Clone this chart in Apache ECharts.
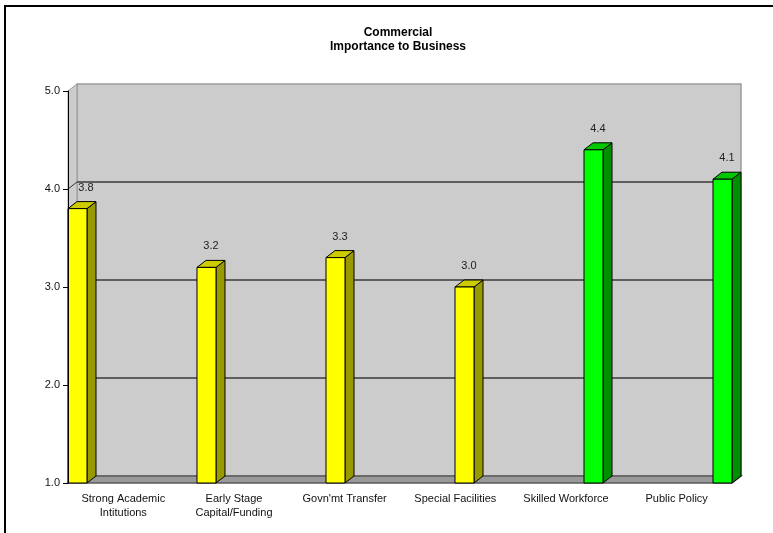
<!DOCTYPE html>
<html>
<head>
<meta charset="utf-8">
<script src="https://cdn.jsdelivr.net/npm/echarts@6/dist/echarts.min.js"></script>
<style>
  html, body { margin: 0; padding: 0; background: #ffffff; }
  #chart { width: 773px; height: 533px; }
</style>
</head>
<body>
<div id="chart"></div>
<script>
// Survey categories and their mean importance scores
const categories = [
  'Strong Academic\nIntitutions',
  'Early Stage\nCapital/Funding',
  "Govn'mt Transfer",
  'Special Facilities',
  'Skilled Workforce',
  'Public Policy'
];
const scores = [3.8, 3.2, 3.3, 3.0, 4.4, 4.1];
// 0 = yellow group, 1 = green group
const scoreGroup = [0, 0, 0, 0, 1, 1];
const yTicks = [1, 2, 3, 4, 5];

// Styling for the pseudo-3D look
const DEPTH_X = 9, DEPTH_Y = 7, BAR_W = 19;
const palettes = [
  { front: '#ffff00', side: '#999900', top: '#cccc00' },
  { front: '#00ff00', side: '#008f00', top: '#00c800' }
];
const FONT = 'Liberation Sans, Arial, sans-serif';

const chart = echarts.init(document.getElementById('chart'), null, { renderer: 'canvas' });

// Back wall, left wall, floor and wall gridlines
function renderRoom(params, api) {
  const cs = params.coordSys;
  const L = cs.x, R = cs.x + cs.width;
  const yBase = api.coord([0, yTicks[0]])[1];
  const yTop = api.coord([0, yTicks[yTicks.length - 1]])[1];
  const children = [];
  // back wall
  children.push({
    type: 'rect',
    shape: { x: L + DEPTH_X, y: yTop - DEPTH_Y, width: R - L, height: yBase - yTop },
    style: { fill: '#cccccc', stroke: '#9a9a9a', lineWidth: 1.5 }
  });
  // left wall
  children.push({
    type: 'polygon',
    shape: { points: [[L, yTop], [L + DEPTH_X, yTop - DEPTH_Y], [L + DEPTH_X, yBase - DEPTH_Y], [L, yBase]] },
    style: { fill: '#cccccc', stroke: '#9a9a9a', lineWidth: 1 }
  });
  // gridlines on back and left walls
  yTicks.slice(1, -1).forEach(function (t) {
    const y = api.coord([0, t])[1];
    children.push({
      type: 'line',
      shape: { x1: L + DEPTH_X, y1: y - DEPTH_Y, x2: R + DEPTH_X, y2: y - DEPTH_Y },
      style: { stroke: '#5f5f5f', lineWidth: 2 }
    });
    children.push({
      type: 'line',
      shape: { x1: L, y1: y, x2: L + DEPTH_X, y2: y - DEPTH_Y },
      style: { stroke: '#333333', lineWidth: 1 }
    });
  });
  // floor
  children.push({
    type: 'polygon',
    shape: { points: [[L, yBase], [L + DEPTH_X, yBase - DEPTH_Y], [R + DEPTH_X, yBase - DEPTH_Y], [R, yBase]] },
    style: { fill: '#999999', stroke: '#5a5a5a', lineWidth: 1.5 }
  });
  return { type: 'group', children: children };
}

// One pseudo-3D bar with its value label
function renderBar(params, api) {
  const idx = api.value(0);
  const val = api.value(1);
  const pal = palettes[api.value(2)];
  const topPt = api.coord([idx, val]);
  const yBase = api.coord([idx, yTicks[0]])[1];
  const x0 = topPt[0] - BAR_W / 2;
  const yT = topPt[1];
  const x1 = x0 + BAR_W;
  const edge = { stroke: '#000000', lineWidth: 1 };
  return {
    type: 'group',
    children: [
      {
        type: 'polygon',
        shape: { points: [[x1, yT], [x1 + DEPTH_X, yT - DEPTH_Y], [x1 + DEPTH_X, yBase - DEPTH_Y], [x1, yBase]] },
        style: Object.assign({ fill: pal.side }, edge)
      },
      {
        type: 'polygon',
        shape: { points: [[x0, yT], [x0 + DEPTH_X, yT - DEPTH_Y], [x1 + DEPTH_X, yT - DEPTH_Y], [x1, yT]] },
        style: Object.assign({ fill: pal.top }, edge)
      },
      {
        type: 'rect',
        shape: { x: x0, y: yT, width: BAR_W, height: yBase - yT },
        style: Object.assign({ fill: pal.front }, edge)
      },
      {
        type: 'text',
        x: x0 + (BAR_W + DEPTH_X) / 2 + (idx === 0 ? 4 : 0),
        y: yT - 21,
        style: {
          text: val.toFixed(1),
          fill: '#222222',
          font: '11px ' + FONT,
          align: 'center',
          verticalAlign: 'middle'
        }
      }
    ]
  };
}

const barData = scores.map(function (v, i) { return [i, v, scoreGroup[i]]; });

const option = {
  backgroundColor: '#ffffff',
  animation: false,
  title: {
    text: 'Commercial\nImportance to Business',
    left: 393,
    textAlign: 'center',
    top: 21,
    padding: 5,
    textStyle: { fontFamily: FONT, fontSize: 12, fontWeight: 'bold', color: '#000000', lineHeight: 14 }
  },
  graphic: [{
    type: 'rect',
    silent: true,
    shape: { x: 5, y: 6, width: 800, height: 560 },
    style: { fill: 'none', stroke: '#000000', lineWidth: 2 },
    z: 100
  }],
  grid: { left: 68, right: 41, top: 91, bottom: 50, containLabel: false },
  xAxis: [
    {
      type: 'category',
      data: categories,
      boundaryGap: true,
      axisLine: { show: false },
      axisTick: { show: false },
      axisLabel: {
        interval: 0,
        margin: 9,
        fontFamily: FONT,
        fontSize: 11,
        lineHeight: 14,
        color: '#111111'
      },
      splitLine: { show: false }
    },
    {
      // positions the bars so the first sits on the wall and the last ends at the right edge
      type: 'value',
      min: -0.0736,
      max: 5.0736,
      show: false
    }
  ],
  yAxis: {
    type: 'value',
    min: yTicks[0],
    max: yTicks[yTicks.length - 1],
    interval: 1,
    position: 'left',
    z: 5,
    axisLine: { show: true, onZero: false, lineStyle: { color: '#000000', width: 1 } },
    axisTick: { show: true, length: 5, lineStyle: { color: '#000000' } },
    axisLabel: {
      margin: 8,
      fontFamily: FONT,
      fontSize: 11,
      color: '#111111',
      formatter: function (v) { return v.toFixed(1); }
    },
    splitLine: { show: false }
  },
  series: [
    {
      type: 'custom',
      name: 'room',
      xAxisIndex: 1,
      z: 1,
      silent: true,
      data: [[0, yTicks[0]]],
      renderItem: renderRoom
    },
    {
      type: 'custom',
      name: 'scores',
      xAxisIndex: 1,
      z: 3,
      data: barData,
      encode: { x: 0, y: 1 },
      renderItem: renderBar
    }
  ]
};

chart.setOption(option);
</script>
</body>
</html>
